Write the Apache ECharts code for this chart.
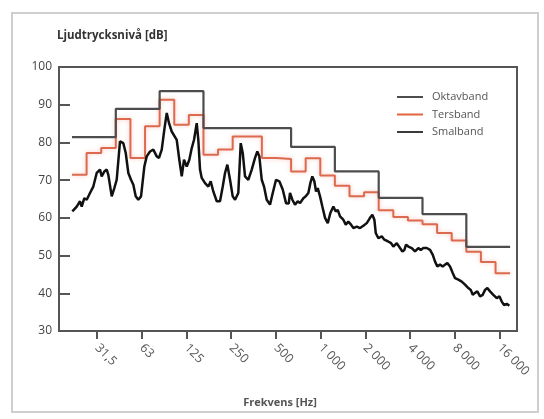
<!DOCTYPE html>
<html>
<head>
<meta charset="utf-8">
<script src="https://cdn.jsdelivr.net/npm/echarts@6/dist/echarts.min.js"></script>
<style>
  html, body { margin: 0; padding: 0; background: #fff; }
  #chart { width: 544px; height: 419px; }
</style>
</head>
<body>
<div id="chart"></div>
<script>
// x positions are expressed in octaves above 31,5 Hz (0 = 31,5 Hz, 9 = 16 000 Hz)
const xTickPos = [0, 1, 2, 3, 4, 5, 6, 7, 8, 9];
const xTickLabels = ['31,5', '63', '125', '250', '500', '1 000', '2 000', '4 000', '8 000', '16 000'];

// Octave band edges and levels (Oktavband)
const oktavEdges = [-0.559, 0.420, 1.400, 2.380, 3.359, 4.339, 5.318, 6.298, 7.277, 8.257, 9.236];
const oktavLevels = [81.4, 88.9, 93.6, 83.8, 83.8, 78.8, 72.3, 65.3, 61.0, 52.3];

// Third-octave band edges and levels (Tersband)
const tersEdges = [-0.559, -0.233, 0.094, 0.420, 0.747, 1.074, 1.400, 1.727, 2.053, 2.380,
  2.706, 3.033, 3.359, 3.686, 4.012, 4.339, 4.665, 4.992, 5.318, 5.645,
  5.971, 6.298, 6.624, 6.951, 7.277, 7.604, 7.930, 8.257, 8.583, 8.910, 9.236];
const tersLevels = [71.4, 77.2, 78.5, 86.2, 75.9, 84.3, 91.3, 84.7, 87.3, 76.7,
  78.1, 81.6, 81.6, 75.9, 75.6, 72.3, 75.8, 71.2, 68.5, 65.7,
  66.8, 62.0, 60.2, 59.3, 58.3, 56.0, 54.0, 51.0, 48.3, 45.3];

// Narrowband spectrum (Smalband)
const smalPos = [-0.552, -0.454, -0.380, -0.342, -0.284, -0.230, -0.157, -0.083, -0.007, 0.067,
  0.105, 0.163, 0.217, 0.253, 0.329, 0.387, 0.440, 0.514, 0.588, 0.642,
  0.700, 0.760, 0.812, 0.865, 0.923, 0.984, 1.013, 1.058, 1.111, 1.185,
  1.259, 1.335, 1.386, 1.447, 1.505, 1.559, 1.610, 1.670, 1.706, 1.782,
  1.840, 1.894, 1.945, 2.006, 2.064, 2.118, 2.169, 2.229, 2.265, 2.303,
  2.341, 2.415, 2.489, 2.542, 2.600, 2.677, 2.750, 2.811, 2.862, 2.914,
  2.974, 3.034, 3.086, 3.159, 3.213, 3.258, 3.309, 3.383, 3.459, 3.533,
  3.584, 3.629, 3.683, 3.734, 3.794, 3.868, 3.929, 4.002, 4.076, 4.152,
  4.226, 4.286, 4.315, 4.367, 4.427, 4.488, 4.539, 4.613, 4.667, 4.725,
  4.769, 4.814, 4.859, 4.897, 4.935, 4.986, 5.038, 5.098, 5.159, 5.217,
  5.284, 5.337, 5.382, 5.433, 5.507, 5.561, 5.619, 5.679, 5.731, 5.807,
  5.881, 5.955, 6.031, 6.104, 6.156, 6.201, 6.232, 6.290, 6.366, 6.424,
  6.500, 6.574, 6.625, 6.701, 6.775, 6.827, 6.872, 6.909, 6.961, 7.037,
  7.111, 7.184, 7.238, 7.296, 7.372, 7.446, 7.507, 7.558, 7.609, 7.669,
  7.730, 7.781, 7.833, 7.893, 7.953, 8.005, 8.079, 8.155, 8.228, 8.302,
  8.356, 8.401, 8.452, 8.503, 8.564, 8.624, 8.676, 8.727, 8.787, 8.861,
  8.937, 8.996, 9.049, 9.101, 9.161, 9.219];
const smalLevels = [61.7, 63.0, 64.4, 63.0, 65.2, 64.8, 66.6, 68.3, 71.9, 72.8,
  71.0, 72.3, 72.8, 71.4, 65.7, 67.9, 70.1, 80.3, 79.8, 77.2,
  71.9, 70.1, 68.8, 65.7, 64.8, 65.7, 68.8, 73.6, 76.3, 77.6,
  78.1, 76.3, 75.9, 78.1, 83.4, 87.8, 85.1, 82.9, 82.5, 80.7,
  75.4, 71.0, 75.4, 73.6, 75.4, 78.5, 80.7, 85.1, 80.7, 72.8,
  70.6, 69.2, 68.3, 69.7, 67.0, 64.4, 64.4, 68.3, 71.9, 74.1,
  70.1, 65.7, 64.8, 66.6, 79.8, 77.2, 71.0, 70.1, 72.8, 75.9,
  77.6, 76.3, 70.1, 68.3, 64.8, 63.5, 66.6, 70.1, 69.7, 67.5,
  63.9, 63.8, 66.6, 64.8, 63.5, 64.4, 63.9, 65.2, 65.7, 66.6,
  69.2, 71.0, 69.7, 67.0, 67.9, 65.7, 63.0, 60.0, 58.6, 61.3,
  63.0, 61.7, 62.1, 60.4, 59.5, 58.2, 59.0, 58.2, 57.3, 57.7,
  57.3, 57.9, 58.6, 60.0, 60.8, 59.5, 56.0, 54.6, 55.1, 54.2,
  53.8, 53.3, 52.4, 53.3, 52.0, 51.1, 51.5, 52.9, 52.4, 52.0,
  51.1, 52.0, 51.5, 52.0, 52.0, 51.5, 50.2, 48.4, 47.1, 47.6,
  47.1, 47.6, 48.0, 47.1, 45.4, 44.0, 43.6, 43.1, 42.3, 41.4,
  40.9, 39.6, 40.1, 40.5, 39.2, 39.6, 40.9, 41.4, 40.5, 39.6,
  38.7, 39.2, 37.8, 36.9, 37.2, 36.7];

const seriesNames = ['Oktavband', 'Tersband', 'Smalband'];

function stepData(edges, levels) {
  const d = levels.map((v, i) => [edges[i], v]);
  d.push([edges[edges.length - 1], levels[levels.length - 1]]);
  return d;
}

const FONT = '"Open Sans", "Noto Sans", sans-serif';
const chart = echarts.init(document.getElementById('chart'), null, { renderer: 'canvas' });

chart.setOption({
  animation: false,
  backgroundColor: '#ffffff',
  textStyle: { fontFamily: FONT },
  graphic: [{
    type: 'rect',
    shape: { x: 12, y: 13, width: 526, height: 399 },
    style: { fill: 'none', stroke: '#cfcfcf', lineWidth: 2 },
    silent: true
  }],
  legend: {
    orient: 'vertical',
    left: 392,
    top: 85,
    itemWidth: 26,
    itemHeight: 2,
    itemGap: 3.5,
    icon: 'rect',
    data: seriesNames,
    textStyle: { fontFamily: FONT, fontSize: 11, color: '#555', lineHeight: 14, padding: [0, 0, 0, 4] }
  },
  grid: {
    left: 59, right: 27, top: 67, bottom: 88,
    show: true, borderColor: '#555', borderWidth: 2, backgroundColor: 'transparent'
  },
  xAxis: {
    type: 'value',
    min: -0.85,
    max: 9.39,
    name: 'Frekvens [Hz]',
    nameLocation: 'middle',
    nameGap: 66,
    nameTextStyle: { fontFamily: FONT, fontSize: 11, fontWeight: 'bold', color: '#555', padding: [0, 16, 0, 0] },
    axisLine: { show: true, onZero: false, lineStyle: { color: '#555', width: 2 } },
    axisTick: { show: true, inside: false, length: 8, customValues: xTickPos, lineStyle: { color: '#555', width: 2 } },
    axisLabel: {
      customValues: xTickPos,
      rotate: -45,
      margin: 15,
      fontSize: 12.5,
      color: '#555',
      fontFamily: FONT,
      formatter: v => xTickLabels[Math.round(v)]
    },
    splitLine: { show: false }
  },
  yAxis: {
    type: 'value',
    min: 30,
    max: 100,
    interval: 10,
    name: 'Ljudtrycksnivå [dB]',
    nameLocation: 'end',
    nameGap: 25,
    nameTextStyle: { fontFamily: FONT, fontSize: 11.5, fontWeight: 'bold', color: '#333', align: 'left', padding: [0, 0, 0, -2] },
    axisLine: { show: true, onZero: false, lineStyle: { color: '#555', width: 2 } },
    axisTick: { show: true, inside: true, length: 11, lineStyle: { color: '#555', width: 2 } },
    axisLabel: { margin: 7, fontSize: 12, color: '#444', fontFamily: FONT },
    splitLine: { show: false }
  },
  series: [
    {
      name: seriesNames[0],
      type: 'line',
      step: 'end',
      symbol: 'none',
      color: '#4d4d4d',
      lineStyle: { color: '#4d4d4d', width: 2.2 },
      data: stepData(oktavEdges, oktavLevels),
      z: 3
    },
    {
      name: seriesNames[1],
      type: 'line',
      step: 'end',
      symbol: 'none',
      color: '#e2643f',
      lineStyle: { color: '#dc6a4e', width: 2, shadowColor: 'rgba(235,130,110,0.45)', shadowBlur: 4 },
      data: stepData(tersEdges, tersLevels),
      z: 2
    },
    {
      name: seriesNames[2],
      type: 'line',
      symbol: 'none',
      color: '#3a3a3a',
      lineStyle: { color: '#111', width: 2.5 },
      data: smalPos.map((p, i) => [p, smalLevels[i]]),
      z: 4
    }
  ]
});
</script>
</body>
</html>
